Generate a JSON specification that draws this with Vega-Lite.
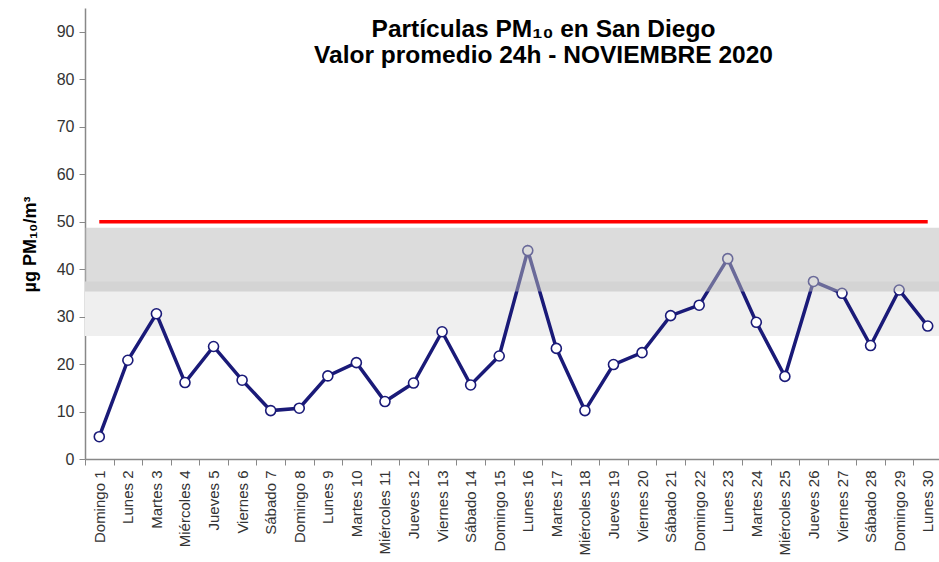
{
  "$schema": "https://vega.github.io/schema/vega-lite/v6.json",
  "autosize": {"type": "none"},
  "padding": {"left": 85, "top": 8, "right": 0, "bottom": 103},
  "width": 857,
  "height": 451,
  "background": "white",
  "config": {
    "view": {"stroke": null},
    "font": "Liberation Sans"
  },
  "title": {
    "text": ["Partículas PM₁₀ en San Diego", "Valor promedio 24h - NOVIEMBRE 2020"],
    "anchor": "middle",
    "orient": "top",
    "offset": -60,
    "dx": 30,
    "fontSize": 24.5,
    "fontWeight": "bold",
    "color": "#000000",
    "lineHeight": 26,
    "font": "Liberation Sans"
  },
  "datasets": {
    "pm10": [
      {"dia": "Domingo 1", "valor": 4.7},
      {"dia": "Lunes 2", "valor": 20.8},
      {"dia": "Martes 3", "valor": 30.6},
      {"dia": "Miércoles 4", "valor": 16.1},
      {"dia": "Jueves 5", "valor": 23.7},
      {"dia": "Viernes 6", "valor": 16.6},
      {"dia": "Sábado 7", "valor": 10.2},
      {"dia": "Domingo 8", "valor": 10.7},
      {"dia": "Lunes 9", "valor": 17.5},
      {"dia": "Martes 10", "valor": 20.3},
      {"dia": "Miércoles 11", "valor": 12.1},
      {"dia": "Jueves 12", "valor": 16.0},
      {"dia": "Viernes 13", "valor": 26.8},
      {"dia": "Sábado 14", "valor": 15.6},
      {"dia": "Domingo 15", "valor": 21.7},
      {"dia": "Lunes 16", "valor": 43.9},
      {"dia": "Martes 17", "valor": 23.3},
      {"dia": "Miércoles 18", "valor": 10.2},
      {"dia": "Jueves 19", "valor": 19.9},
      {"dia": "Viernes 20", "valor": 22.4},
      {"dia": "Sábado 21", "valor": 30.2},
      {"dia": "Domingo 22", "valor": 32.4},
      {"dia": "Lunes 23", "valor": 42.2},
      {"dia": "Martes 24", "valor": 28.8},
      {"dia": "Miércoles 25", "valor": 17.4},
      {"dia": "Jueves 26", "valor": 37.4},
      {"dia": "Viernes 27", "valor": 34.9},
      {"dia": "Sábado 28", "valor": 23.9},
      {"dia": "Domingo 29", "valor": 35.6},
      {"dia": "Lunes 30", "valor": 28.0}
    ],
    "bandaClara": [{"desde": 25.9, "hasta": 37.4}],
    "bandaOscura": [{"desde": 35.3, "hasta": 48.7}]
  },
  "layer": [
    {
      "data": {"name": "bandaClara"},
      "mark": {"type": "rect", "color": "#efefef"},
      "encoding": {
        "y": {"field": "desde", "type": "quantitative"},
        "y2": {"field": "hasta"}
      }
    },
    {
      "data": {"name": "pm10"},
      "mark": {"type": "line", "color": "#1a1a78", "strokeWidth": 3.5},
      "encoding": {
        "x": {
          "field": "dia",
          "type": "nominal",
          "sort": null,
          "scale": {"paddingInner": 0, "paddingOuter": 0},
          "axis": {
            "title": null,
            "labelAngle": 270,
            "labelAlign": "right",
            "labelBaseline": "middle",
            "labelFontSize": 15,
            "labelColor": "#333333",
            "labelPadding": 5,
            "tickBand": "extent",
            "tickSize": 6,
            "tickColor": "#888888",
            "domainColor": "#888888",
            "domainWidth": 1.5,
            "labelFont": "Liberation Sans"
          }
        },
        "y": {
          "field": "valor",
          "type": "quantitative",
          "scale": {"domain": [0, 95], "nice": false},
          "axis": {
            "title": "µg PM₁₀/m³",
            "titleFontSize": 18,
            "titleFontWeight": "bold",
            "titleColor": "#000000",
            "titleAngle": 270,
            "titleAlign": "center",
            "titleBaseline": "middle",
            "titleX": -55,
            "titleY": 236,
            "values": [0, 10, 20, 30, 40, 50, 60, 70, 80, 90],
            "labelFontSize": 16,
            "labelColor": "#333333",
            "labelPadding": 5,
            "tickSize": 6,
            "tickColor": "#888888",
            "domainColor": "#888888",
            "domainWidth": 1.5,
            "grid": false,
            "labelFont": "Liberation Sans",
            "titleFont": "Liberation Sans"
          }
        }
      }
    },
    {
      "data": {"name": "pm10"},
      "mark": {"type": "point", "filled": false, "fill": "white", "fillOpacity": 1, "stroke": "#1a1a78", "strokeWidth": 1.6, "size": 100, "opacity": 1},
      "encoding": {
        "x": {"field": "dia", "type": "nominal", "sort": null},
        "y": {"field": "valor", "type": "quantitative"}
      }
    },
    {
      "data": {"name": "bandaOscura"},
      "mark": {"type": "rect", "color": "#b9b9b9", "opacity": 0.5},
      "encoding": {
        "y": {"field": "desde", "type": "quantitative"},
        "y2": {"field": "hasta"}
      }
    },
    {
      "data": {"name": "pm10"},
      "mark": {"type": "line", "color": "#ff0000", "strokeWidth": 3.5},
      "encoding": {
        "x": {"field": "dia", "type": "nominal", "sort": null},
        "y": {"datum": 50, "type": "quantitative"}
      }
    }
  ]
}
